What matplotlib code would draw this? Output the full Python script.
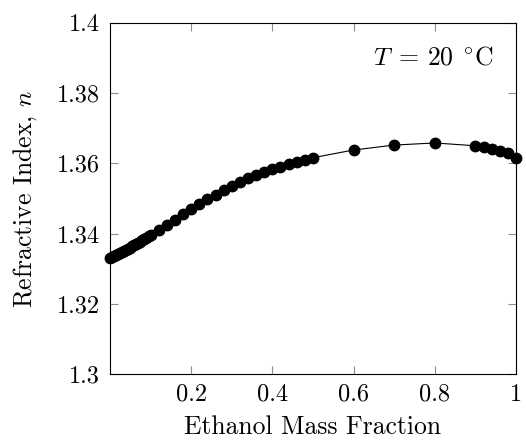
import matplotlib
matplotlib.use('Agg')
import matplotlib.pyplot as plt

# Refractive index of aqueous ethanol at 20 C (mass fraction)
mass_fraction = [0.0, 0.005, 0.01, 0.015, 0.02, 0.025, 0.03, 0.035, 0.04, 0.045,
                 0.05, 0.055, 0.06, 0.065, 0.07, 0.075, 0.08, 0.085, 0.09, 0.095,
                 0.10, 0.12, 0.14, 0.16, 0.18, 0.20, 0.22, 0.24, 0.26, 0.28,
                 0.30, 0.32, 0.34, 0.36, 0.38, 0.40, 0.42, 0.44, 0.46, 0.48,
                 0.50, 0.60, 0.70, 0.80, 0.90, 0.92, 0.94, 0.96, 0.98, 1.00]
refr_index = [1.3330, 1.3333, 1.3336, 1.3339, 1.3342, 1.3345, 1.3348, 1.3351, 1.3354, 1.3357,
              1.3360, 1.3364, 1.3367, 1.3370, 1.3374, 1.3377, 1.3381, 1.3384, 1.3388, 1.3392,
              1.3395, 1.3410, 1.3425, 1.3440, 1.3455, 1.3469, 1.3484, 1.3498, 1.3511, 1.3524,
              1.3535, 1.3546, 1.3557, 1.3566, 1.3575, 1.3583, 1.3590, 1.3598, 1.3604, 1.3610,
              1.3616, 1.3638, 1.3652, 1.3658, 1.3650, 1.3646, 1.3642, 1.3636, 1.3630, 1.3614]

x_ticks = [0.2, 0.4, 0.6, 0.8, 1.0]
x_tick_labels = ['0.2', '0.4', '0.6', '0.8', '1']
y_ticks = [1.30, 1.32, 1.34, 1.36, 1.38, 1.40]
y_tick_labels = ['1.3', '1.32', '1.34', '1.36', '1.38', '1.4']

plt.rcParams['font.family'] = 'serif'
plt.rcParams['font.serif'] = ['cmr10', 'DejaVu Serif']
plt.rcParams['mathtext.fontset'] = 'cm'
plt.rcParams['axes.unicode_minus'] = False

fig = plt.figure(figsize=(5.26, 4.40), dpi=100)
ax = fig.add_axes([0.209, 0.150, 0.772, 0.798])

ax.plot(mass_fraction, refr_index, color='black', linewidth=0.8,
        marker='o', markersize=7.5, clip_on=False, zorder=3)

ax.set_xlim(0, 1)
ax.set_ylim(1.3, 1.4)
ax.set_xticks(x_ticks)
ax.set_xticklabels(x_tick_labels)
ax.set_yticks(y_ticks)
ax.set_yticklabels(y_tick_labels)

ax.tick_params(direction='in', length=6, width=0.8, color='#8c8c8c',
               top=True, right=True, labelsize=17.5, pad=7)
for spine in ax.spines.values():
    spine.set_linewidth(0.8)

ax.set_xlabel('Ethanol Mass Fraction', fontsize=18.5, labelpad=7)
ax.set_ylabel(r'Refractive Index, $n$', fontsize=18.5, labelpad=13)

ax.text(0.945, 0.9, r'$T\;=\,20\;\,^{\circ}\mathrm{C}$', transform=ax.transAxes,
        ha='right', va='center', fontsize=18.5)

fig.savefig('out.png', dpi=100)
